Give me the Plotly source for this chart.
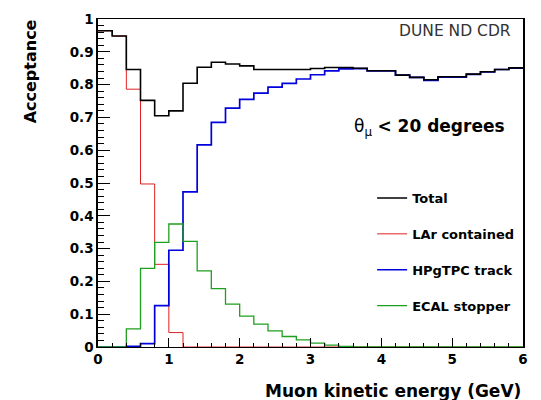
import plotly.graph_objects as go

# Bin edges (GeV), 0.2 GeV bins
bin_edges = [0.0, 0.2, 0.4, 0.6, 0.8, 1.0, 1.2, 1.4, 1.6, 1.8, 2.0,
             2.2, 2.4, 2.6, 2.8, 3.0, 3.2, 3.4, 3.6, 3.8, 4.0,
             4.2, 4.4, 4.6, 4.8, 5.0, 5.2, 5.4, 5.6, 5.8, 6.0]

total = [0.964, 0.948, 0.846, 0.752, 0.705, 0.720, 0.804, 0.853, 0.868, 0.863,
         0.857, 0.846, 0.846, 0.846, 0.846, 0.849, 0.852, 0.852, 0.850, 0.842,
         0.842, 0.829, 0.822, 0.815, 0.824, 0.824, 0.832, 0.839, 0.846, 0.851]

lar_contained = [0.964, 0.948, 0.786, 0.497, 0.252, 0.044, 0.0, 0.0, 0.0, 0.0,
                 0.0, 0.0, 0.0, 0.0, 0.0, 0.0, 0.0, 0.0, 0.0, 0.0,
                 0.0, 0.0, 0.0, 0.0, 0.0, 0.0, 0.0, 0.0, 0.0, 0.0]

hpgtpc_track = [0.0, 0.0, 0.002, 0.010, 0.126, 0.295, 0.473, 0.616, 0.685, 0.728,
                0.755, 0.774, 0.792, 0.804, 0.817, 0.830, 0.842, 0.848, 0.849, 0.842,
                0.842, 0.829, 0.822, 0.813, 0.823, 0.823, 0.831, 0.839, 0.846, 0.850]

ecal_stopper = [0.0, 0.0, 0.055, 0.240, 0.319, 0.375, 0.322, 0.232, 0.178, 0.131,
                0.094, 0.070, 0.049, 0.032, 0.022, 0.012, 0.006, 0.002, 0.0, 0.0,
                0.0, 0.0, 0.0, 0.0, 0.0, 0.0, 0.0, 0.0, 0.0, 0.0]

FONT_B = "DejaVu Sans"


def step_y(vals):
    return list(vals) + [vals[-1]]


fig = go.Figure()

series = [
    ("LAr contained", lar_contained, "#e02020", 1.0, 2),
    ("HPgTPC track", hpgtpc_track, "#0000dd", 1.7, 3),
    ("ECAL stopper", ecal_stopper, "#1f9f1f", 1.3, 4),
    ("Total", total, "#000000", 1.6, 1),
]
for name, vals, col, lw, rank in series:
    fig.add_trace(go.Scatter(
        x=bin_edges, y=step_y(vals), mode="lines", name=name,
        line=dict(color=col, width=lw, shape="hv"),
        legendrank=rank, legendgroup=name,
    ))

fig.update_layout(
    width=541, height=400,
    margin=dict(l=98, r=17.5, t=10.7, b=52.5),
    plot_bgcolor="white", paper_bgcolor="white",
    showlegend=True,
    legend=dict(x=0.645, y=0.50, xanchor="left", yanchor="top",
                font=dict(family=FONT_B, size=13, color="black", weight="bold"),
                bgcolor="rgba(0,0,0,0)", tracegroupgap=16, itemwidth=30),
)

fig.update_xaxes(
    range=[0, 6], dtick=1, tick0=0, ticks="inside", ticklen=9, tickwidth=1,
    tickcolor="black",
    minor=dict(ticks="inside", dtick=0.2, ticklen=4.5, tickcolor="black", tickwidth=1),
    showgrid=False, zeroline=False, showline=True, mirror=True,
    linecolor="black", linewidth=1,
    tickfont=dict(family=FONT_B, size=13.5, color="black", weight="bold"),
)
fig.update_yaxes(
    range=[0, 1], dtick=0.1, tick0=0, ticks="inside", ticklen=12, tickwidth=1,
    tickcolor="black",
    minor=dict(ticks="inside", dtick=0.02, ticklen=6, tickcolor="black", tickwidth=1),
    showgrid=False, zeroline=False, showline=True, mirror=True,
    linecolor="black", linewidth=1.5,
    tickfont=dict(family=FONT_B, size=13.5, color="black", weight="bold"),
    ticklabelstandoff=0,
)

fig.add_annotation(
    text="Acceptance", textangle=-90, xref="paper", yref="paper",
    x=-0.16, y=1.005, xanchor="center", yanchor="top", showarrow=False,
    font=dict(family=FONT_B, size=16, color="black", weight="bold"),
)
fig.add_annotation(
    text="Muon kinetic energy (GeV)", xref="paper", yref="paper",
    x=1.0, y=-0.135, xanchor="right", yanchor="middle", showarrow=False,
    font=dict(family=FONT_B, size=17, color="black", weight="bold"),
)
fig.add_annotation(
    text="DUNE ND CDR", xref="paper", yref="paper",
    x=0.976, y=0.964, xanchor="right", yanchor="middle", showarrow=False,
    font=dict(family=FONT_B, size=15.5, color="#333333"),
)
fig.add_annotation(
    text="θ<sub>μ</sub> <b>&lt; 20 degrees</b>", xref="paper", yref="paper",
    x=0.963, y=0.67, xanchor="right", yanchor="middle", showarrow=False,
    font=dict(family=FONT_B, size=17, color="black"),
)

fig.write_html("out.html")
